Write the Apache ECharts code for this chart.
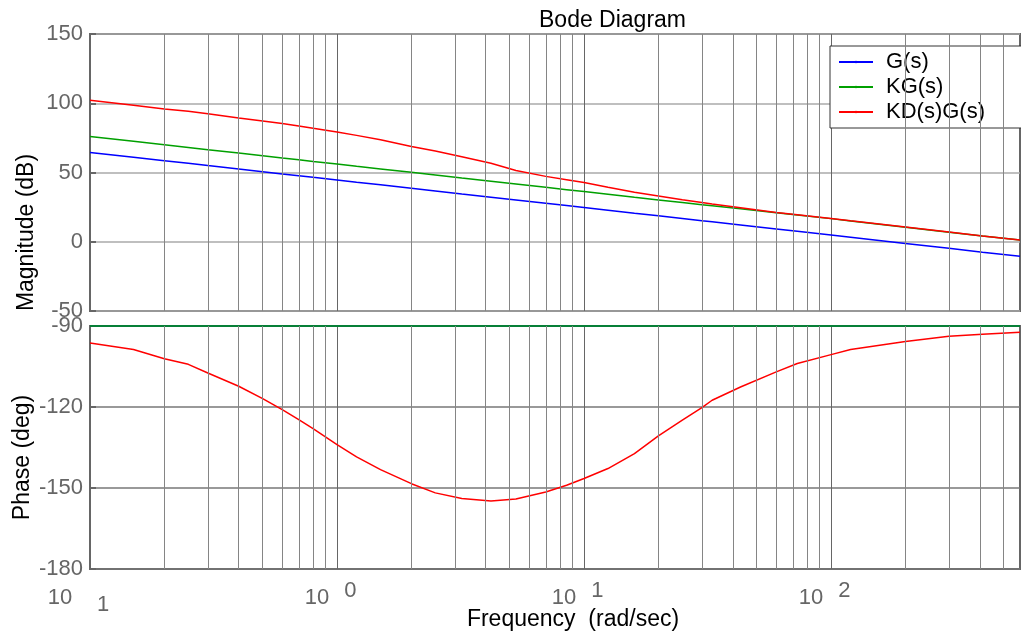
<!DOCTYPE html>
<html>
<head>
<meta charset="utf-8">
<script src="https://cdn.jsdelivr.net/npm/echarts@6/dist/echarts.min.js"></script>
<style>
html, body { margin: 0; padding: 0; background: #fff; }
#chart { width: 1021px; height: 638px; }
</style>
</head>
<body>
<div id="chart"></div>
<script>
// frequency samples (rad/sec)
const freq = [0.1, 0.15, 0.2, 0.25, 0.3, 0.4, 0.5, 0.6, 0.7, 0.8, 1, 1.2, 1.5, 2, 2.5, 3.2, 4.2, 5.3, 7, 8.5,
  10, 12.5, 16, 20, 25, 30, 33, 43, 60, 73, 100, 120, 200, 300, 410, 582];

// magnitude (dB)
const magG = [64.5, 61.0, 58.5, 56.6, 55.0, 52.5, 50.6, 49.0, 47.7, 46.5, 44.6, 43.0, 41.1, 38.6, 36.7, 34.5, 32.2, 30.2, 27.8, 26.1,
  24.7, 22.8, 20.6, 18.7, 16.8, 15.2, 14.4, 12.1, 9.2, 7.5, 4.8, 3.2, -1.2, -4.7, -7.5, -10.4];
const magKG = [76.0, 72.5, 70.0, 68.1, 66.5, 64.0, 62.1, 60.5, 59.2, 58.0, 56.1, 54.5, 52.6, 50.1, 48.2, 46.0, 43.7, 41.7, 39.3, 37.6,
  36.2, 34.3, 32.1, 30.2, 28.3, 26.8, 26.0, 23.8, 21.0, 19.4, 16.7, 15.0, 10.5, 6.9, 4.1, 1.2];
const magKDG = [102.2, 98.6, 95.9, 94.2, 92.5, 89.4, 87.2, 85.3, 83.5, 81.9, 79.3, 76.8, 73.7, 68.8, 65.5, 61.3, 56.7, 51.5, 47.2, 44.8,
  42.8, 39.3, 35.8, 33.1, 30.3, 28.3, 27.3, 24.6, 21.2, 19.5, 16.8, 15.1, 10.6, 7.0, 4.2, 1.3];

// phase (deg)
const phaseKDG = [-96.3, -98.7, -102.1, -104.2, -107.4, -112.3, -116.9, -121, -124.7, -128, -133.9, -138.5, -143.2, -148.4, -151.8, -153.9, -154.8, -154.1, -151.5, -149,
  -146.5, -142.8, -137.3, -130.7, -124.9, -120.2, -117.5, -112.6, -107, -103.9, -100.6, -98.7, -95.7, -93.8, -93.1, -92.3];
const flatFreq = [0.1, 582];
const phaseG = [-90, -90];
const phaseKG = [-90, -90];

// minor log grid lines
const minorFreq = [0.2, 0.3, 0.4, 0.5, 0.6, 0.7, 0.8, 0.9, 2, 3, 4, 5, 6, 7, 8, 9,
  20, 30, 40, 50, 60, 70, 80, 90, 200, 300, 400, 500];

const seriesNames = ['G(s)', 'KG(s)', 'KD(s)G(s)'];
const colors = ['#0000ff', '#00a000', '#ff0000'];

const FONT = 'Liberation Sans, Arial, sans-serif';

function pairs(xs, ys) {
  return xs.map((x, i) => [x, ys[i]]);
}

function xAxisBase(idx) {
  return {
    type: 'log',
    logBase: 10,
    gridIndex: idx,
    min: 0.1,
    max: 582,
    axisLine: { show: false },
    axisTick: { show: false },
    splitLine: { show: true, lineStyle: { color: '#666', width: 1 } }
  };
}

const chart = echarts.init(document.getElementById('chart'));

const lineSeries = (name, i, xi, data, extra) => Object.assign({
  name: name,
  type: 'line',
  xAxisIndex: xi,
  yAxisIndex: xi,
  data: data,
  symbol: 'none',
  z: 3,
  lineStyle: { color: colors[i], width: 1.5 },
  itemStyle: { color: colors[i] }
}, extra || {});

const gridLines = (xi) => ({
  type: 'line',
  xAxisIndex: xi,
  yAxisIndex: xi,
  data: [],
  silent: true,
  z: 1,
  markLine: {
    silent: true,
    symbol: 'none',
    animation: false,
    label: { show: false },
    lineStyle: { color: '#858585', width: 1, type: 'solid' },
    data: minorFreq.map(f => ({ xAxis: f }))
  }
});

chart.setOption({
  animation: false,
  backgroundColor: '#fff',
  textStyle: { fontFamily: FONT },
  title: {
    text: 'Bode Diagram',
    left: 534,
    top: 4,
    textStyle: { fontSize: 23, fontWeight: 'normal', color: '#000', fontFamily: FONT }
  },
  legend: {
    data: seriesNames,
    orient: 'vertical',
    left: 830,
    top: 46,
    itemWidth: 34,
    itemHeight: 3,
    itemGap: 3,
    padding: [5, 60, 5, 8],
    backgroundColor: '#fff',
    borderColor: '#333',
    borderWidth: 1,
    textStyle: { fontSize: 22, color: '#000', fontFamily: FONT, padding: [0, 0, 0, 8] }
  },
  grid: [
    { left: 90, top: 34, width: 930, height: 277, outerBoundsMode: 'none', containLabel: false,
      show: true, borderColor: '#666', borderWidth: 2, backgroundColor: 'transparent' },
    { left: 90, top: 326, width: 930, height: 243, outerBoundsMode: 'none', containLabel: false,
      show: true, borderColor: '#666', borderWidth: 2, backgroundColor: 'transparent' }
  ],
  xAxis: [
    Object.assign(xAxisBase(0), { axisLabel: { show: false } }),
    Object.assign(xAxisBase(1), {
      name: 'Frequency  (rad/sec)',
      nameLocation: 'middle',
      nameGap: 39,
      nameMoveOverlap: false,
      nameTextStyle: { fontSize: 23, color: '#000', fontFamily: FONT, padding: [0, 0, 0, 36] },
      axisLabel: {
        show: true,
        margin: 11,
        showMinLabel: true,
        showMaxLabel: false,
        formatter: function (v) {
          const e = Math.round(Math.log10(v));
          if (e < 0) return '{b1|10}{ed|1}';
          return '{b|10}{eu|' + e + '}';
        },
        rich: {
          b: { fontSize: 22, color: '#666', fontFamily: FONT, lineHeight: 36, verticalAlign: 'middle', padding: [0, 15, 0, 0] },
          b1: { fontSize: 22, color: '#666', fontFamily: FONT, lineHeight: 36, verticalAlign: 'middle', padding: [0, 25, 0, 0] },
          eu: { fontSize: 22, color: '#666', fontFamily: FONT, lineHeight: 22, verticalAlign: 'top', padding: [0, 13, 0, 0] },
          ed: { fontSize: 22, color: '#666', fontFamily: FONT, lineHeight: 22, verticalAlign: 'bottom', padding: [0, 23, 0, 0] }
        }
      }
    })
  ],
  yAxis: [
    {
      type: 'value',
      gridIndex: 0,
      min: -50,
      max: 150,
      interval: 50,
      name: 'Magnitude (dB)',
      nameLocation: 'middle',
      nameGap: 52,
      nameMoveOverlap: false,
      nameTextStyle: { fontSize: 23, color: '#000', fontFamily: FONT, padding: [0, 120, 0, 0] },
      axisLine: { show: false },
      axisTick: { show: true, inside: true, length: 6, lineStyle: { color: '#666', width: 2 } },
      axisLabel: { fontSize: 22, color: '#666', margin: 7 },
      splitLine: { show: true, lineStyle: { color: '#aaa', width: 1.5 } }
    },
    {
      type: 'value',
      gridIndex: 1,
      min: -180,
      max: -90,
      interval: 30,
      name: 'Phase (deg)',
      nameLocation: 'middle',
      nameGap: 56,
      nameMoveOverlap: false,
      nameTextStyle: { fontSize: 23, color: '#000', fontFamily: FONT, padding: [0, 20, 0, 0] },
      axisLine: { show: false },
      axisTick: { show: true, inside: true, length: 6, lineStyle: { color: '#666', width: 2 } },
      axisLabel: { fontSize: 22, color: '#666', margin: 7 },
      splitLine: { show: true, lineStyle: { color: '#777', width: 1.5 } }
    }
  ],
  series: [
    gridLines(0),
    gridLines(1),
    lineSeries(seriesNames[0], 0, 0, pairs(freq, magG)),
    lineSeries(seriesNames[1], 1, 0, pairs(freq, magKG)),
    lineSeries(seriesNames[2], 2, 0, pairs(freq, magKDG)),
    lineSeries(seriesNames[0], 0, 1, pairs(flatFreq, phaseG), { clip: false }),
    lineSeries(seriesNames[1], 1, 1, pairs(flatFreq, phaseKG), { clip: false }),
    lineSeries(seriesNames[2], 2, 1, pairs(freq, phaseKDG))
  ]
});
</script>
</body>
</html>
